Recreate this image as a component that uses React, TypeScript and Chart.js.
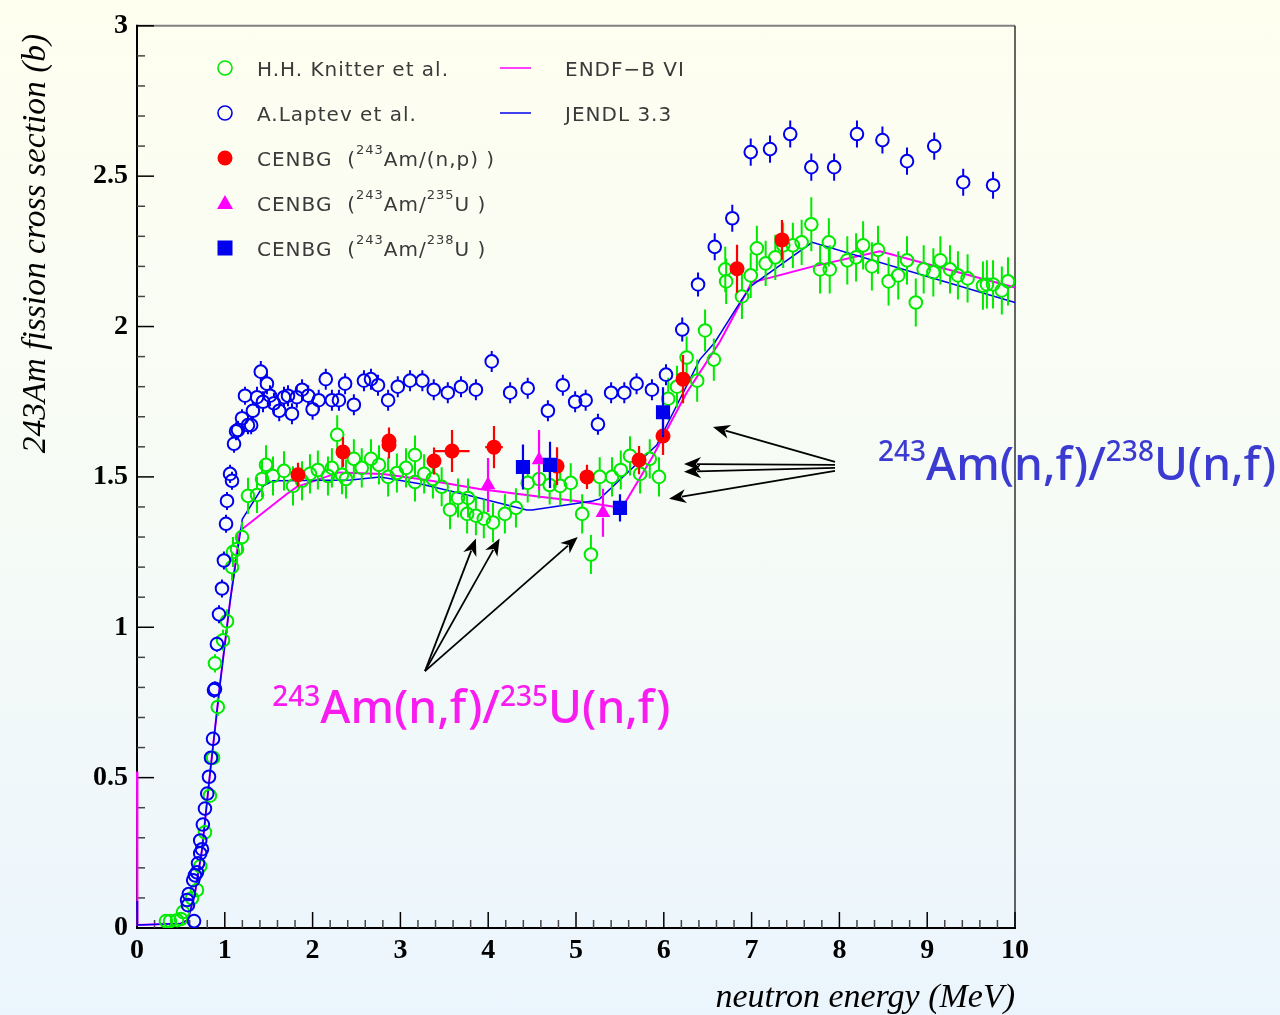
import React, { useEffect, useRef } from "react";
import { Chart, registerables } from "chart.js";

Chart.register(...registerables);

// ---------------- data ----------------
// H.H. Knitter et al.
const knitterX = [0.33, 0.376, 0.456, 0.5, 0.524, 0.626, 0.683, 0.72, 0.774, 0.83, 0.866, 0.888, 0.92, 0.98, 1.025, 1.082, 1.093, 1.139, 1.196, 1.264, 1.367, 1.424, 1.469, 1.549, 1.674, 1.777, 1.879, 1.97, 2.06, 2.175, 2.22, 2.28, 2.335, 2.38, 2.47, 2.56, 2.665, 2.756, 2.86, 2.96, 3.064, 3.166, 3.166, 3.27, 3.37, 3.47, 3.565, 3.656, 3.77, 3.76, 3.86, 3.95, 4.055, 4.19, 4.316, 4.45, 4.58, 4.7, 4.82, 4.94, 5.07, 5.17, 5.27, 5.41, 5.51, 5.615, 5.73, 5.84, 5.945, 6.05, 6.15, 6.26, 6.38, 6.47, 6.57, 6.7, 6.71, 6.89, 6.99, 7.06, 7.16, 7.27, 7.36, 7.47, 7.57, 7.68, 7.78, 7.88, 7.89, 8.09, 8.19, 8.27, 8.37, 8.44, 8.56, 8.67, 8.77, 8.87, 8.96, 9.07, 9.15, 9.26, 9.35, 9.46, 9.635, 9.68, 9.75, 9.85, 9.92];
const knitterY = [0.023, 0.023, 0.026, 0.03, 0.053, 0.099, 0.126, 0.205, 0.318, 0.44, 0.566, 0.88, 0.735, 0.957, 1.02, 1.2, 1.25, 1.26, 1.3, 1.437, 1.44, 1.493, 1.54, 1.503, 1.52, 1.47, 1.487, 1.51, 1.523, 1.503, 1.53, 1.64, 1.507, 1.493, 1.56, 1.53, 1.56, 1.54, 1.5, 1.513, 1.53, 1.573, 1.483, 1.51, 1.493, 1.467, 1.391, 1.43, 1.43, 1.377, 1.371, 1.361, 1.348, 1.377, 1.397, 1.48, 1.493, 1.473, 1.47, 1.48, 1.377, 1.242, 1.5, 1.5, 1.523, 1.57, 1.51, 1.56, 1.5, 1.76, 1.8, 1.897, 1.82, 1.987, 1.89, 2.19, 2.15, 2.1, 2.17, 2.26, 2.21, 2.23, 2.27, 2.27, 2.28, 2.34, 2.19, 2.28, 2.19, 2.22, 2.23, 2.27, 2.2, 2.255, 2.15, 2.17, 2.22, 2.08, 2.19, 2.18, 2.22, 2.19, 2.17, 2.16, 2.136, 2.14, 2.14, 2.12, 2.15];
const knitterErr = [0, 0, 0, 0, 0.01, 0.01, 0.01, 0.015, 0.015, 0.02, 0.02, 0.03, 0.03, 0.035, 0.04, 0.045, 0.05, 0.05, 0.05, 0.06, 0.06, 0.06, 0.065, 0.065, 0.065, 0.065, 0.065, 0.065, 0.065, 0.065, 0.065, 0.065, 0.065, 0.065, 0.065, 0.065, 0.065, 0.065, 0.065, 0.065, 0.065, 0.065, 0.065, 0.065, 0.065, 0.065, 0.065, 0.065, 0.065, 0.065, 0.065, 0.065, 0.065, 0.065, 0.065, 0.065, 0.065, 0.065, 0.065, 0.065, 0.065, 0.065, 0.065, 0.065, 0.065, 0.065, 0.065, 0.065, 0.065, 0.07, 0.07, 0.07, 0.07, 0.07, 0.07, 0.075, 0.075, 0.075, 0.075, 0.075, 0.075, 0.075, 0.075, 0.075, 0.075, 0.09, 0.08, 0.08, 0.08, 0.08, 0.08, 0.08, 0.08, 0.08, 0.08, 0.08, 0.08, 0.08, 0.08, 0.08, 0.08, 0.08, 0.08, 0.08, 0.08, 0.08, 0.08, 0.08, 0.08];

// A. Laptev et al.
const laptevX = [0.65, 0.58, 0.57, 0.59, 0.64, 0.66, 0.683, 0.695, 0.72, 0.74, 0.72, 0.75, 0.774, 0.8, 0.82, 0.843, 0.866, 0.877, 0.888, 0.91, 0.934, 0.968, 0.99, 1.014, 1.025, 1.06, 1.082, 1.105, 1.128, 1.15, 1.196, 1.264, 1.3, 1.23, 1.32, 1.367, 1.41, 1.435, 1.48, 1.515, 1.56, 1.62, 1.674, 1.72, 1.765, 1.82, 1.88, 1.95, 2.0, 2.07, 2.15, 2.22, 2.3, 2.37, 2.47, 2.585, 2.665, 2.745, 2.86, 2.97, 3.11, 3.25, 3.38, 3.54, 3.69, 3.86, 4.04, 4.25, 4.45, 4.68, 4.85, 4.99, 5.11, 5.25, 5.4, 5.55, 5.69, 5.865, 6.025, 6.21, 6.39, 6.58, 6.78, 6.99, 7.21, 7.44, 7.68, 7.94, 8.2, 8.49, 8.77, 9.08, 9.41, 9.75];
const laptevY = [0.023, 0.076, 0.093, 0.113, 0.159, 0.175, 0.185, 0.215, 0.248, 0.262, 0.291, 0.344, 0.397, 0.447, 0.503, 0.566, 0.629, 0.791, 0.795, 0.944, 1.043, 1.129, 1.222, 1.344, 1.42, 1.51, 1.487, 1.61, 1.652, 1.656, 1.695, 1.672, 1.672, 1.77, 1.72, 1.765, 1.85, 1.75, 1.81, 1.77, 1.745, 1.72, 1.765, 1.77, 1.71, 1.765, 1.79, 1.77, 1.725, 1.755, 1.825, 1.755, 1.755, 1.81, 1.74, 1.82, 1.825, 1.805, 1.755, 1.8, 1.82, 1.82, 1.79, 1.78, 1.8, 1.79, 1.884, 1.78, 1.795, 1.72, 1.805, 1.75, 1.755, 1.675, 1.78, 1.78, 1.81, 1.79, 1.84, 1.99, 2.14, 2.265, 2.36, 2.58, 2.59, 2.64, 2.53, 2.53, 2.64, 2.62, 2.55, 2.6, 2.48, 2.47];
const laptevErr = [0.01, 0.01, 0.01, 0.01, 0.01, 0.01, 0.01, 0.01, 0.01, 0.012, 0.012, 0.015, 0.015, 0.015, 0.02, 0.02, 0.02, 0.025, 0.025, 0.025, 0.03, 0.03, 0.03, 0.03, 0.03, 0.03, 0.03, 0.03, 0.03, 0.03, 0.03, 0.03, 0.03, 0.03, 0.03, 0.035, 0.035, 0.035, 0.035, 0.035, 0.035, 0.035, 0.035, 0.035, 0.035, 0.035, 0.035, 0.035, 0.035, 0.035, 0.035, 0.035, 0.035, 0.035, 0.035, 0.035, 0.035, 0.035, 0.035, 0.035, 0.035, 0.035, 0.035, 0.035, 0.035, 0.035, 0.035, 0.035, 0.035, 0.035, 0.035, 0.035, 0.035, 0.035, 0.035, 0.035, 0.035, 0.035, 0.035, 0.04, 0.04, 0.045, 0.045, 0.045, 0.045, 0.045, 0.045, 0.045, 0.045, 0.045, 0.045, 0.045, 0.045, 0.045];

// CENBG (243Am/(n,p))
const cenbgNpX = [1.834, 2.346, 2.87, 2.87, 3.383, 3.588, 4.066, 4.784, 5.125, 5.718, 5.991, 6.219, 6.834, 7.346];
const cenbgNpY = [1.507, 1.583, 1.619, 1.606, 1.553, 1.586, 1.599, 1.536, 1.5, 1.556, 1.636, 1.825, 2.192, 2.288];
const cenbgNpErr = [0.04, 0.05, 0.045, 0.045, 0.045, 0.07, 0.07, 0.063, 0.04, 0.047, 0.063, 0.08, 0.08, 0.066];
const cenbgNpXErr = [0.08, 0, 0, 0, 0, 0.2, 0.1, 0, 0, 0, 0, 0, 0, 0];

// CENBG (243Am/235U)
const cenbgU5X = [3.998, 4.579, 5.307];
const cenbgU5Y = [1.473, 1.556, 1.381];
const cenbgU5Err = [0.09, 0.1, 0.08];

// CENBG (243Am/238U)
const cenbgU8X = [4.396, 4.704, 5.501, 5.991];
const cenbgU8Y = [1.533, 1.54, 1.397, 1.715];
const cenbgU8Err = [0.075, 0.077, 0.045, 0.083];

// Evaluations
const endfX = [0, 0.005, 0.5, 0.58, 0.66, 0.74, 0.83, 0.945, 1.06, 1.17, 1.71, 1.82, 2.3, 2.8, 3.3, 3.9, 4.59, 5.05, 5.45, 5.53, 5.87, 6.26, 6.64, 7.0, 7.7, 8.46, 10];
const endfY = [0.52, 0.01, 0.015, 0.027, 0.115, 0.26, 0.51, 0.81, 1.086, 1.32, 1.444, 1.467, 1.515, 1.51, 1.49, 1.46, 1.434, 1.418, 1.4, 1.4, 1.566, 1.78, 1.95, 2.146, 2.2, 2.25, 2.13];
const jendlX = [0, 0.005, 0.5, 0.58, 0.66, 0.74, 0.83, 0.945, 1.06, 1.2, 1.44, 1.55, 1.63, 2.43, 2.77, 3.22, 3.76, 4.44, 4.5, 5.19, 5.27, 5.92, 6.41, 6.58, 6.89, 7.0, 7.69, 10];
const jendlY = [0.09, 0.01, 0.015, 0.027, 0.115, 0.26, 0.51, 0.81, 1.086, 1.36, 1.47, 1.487, 1.487, 1.49, 1.5, 1.477, 1.44, 1.39, 1.39, 1.42, 1.427, 1.606, 1.89, 1.947, 2.09, 2.136, 2.28, 2.08];

// Annotations (data coordinates)
const arrows238 = [
  { from: [7.95, 1.55], to: [6.56, 1.666] },
  { from: [7.95, 1.54], to: [6.23, 1.543] },
  { from: [7.95, 1.53], to: [6.23, 1.517] },
  { from: [7.95, 1.52], to: [6.06, 1.427] },
];
const arrows235 = [
  { from: [3.28, 0.854], to: [3.86, 1.295] },
  { from: [3.28, 0.854], to: [4.13, 1.295] },
  { from: [3.28, 0.854], to: [5.02, 1.3] },
];
const label238 = { x: 8.44, y: 1.49, parts: [{ t: "243", sup: true }, { t: "Am(n,f)/" }, { t: "238", sup: true }, { t: "U(n,f)" }] };
const label235 = { x: 1.54, y: 0.682, parts: [{ t: "243", sup: true }, { t: "Am(n,f)/" }, { t: "235", sup: true }, { t: "U(n,f)" }] };

const xTitle = "neutron energy (MeV)";
const yTitle = "243Am fission cross section (b)";

// ---------------- style ----------------
const GREEN = "#00ea00";
const BLUE = "#0000ee";
const RED = "#ff0000";
const MAGENTA = "#ff00ff";
const SERIF = '"Liberation Serif", "Times New Roman", serif';
const LEG_FONT = '"DejaVu Sans", sans-serif';
const ANN_FONT = '"Noto Sans", "Open Sans", sans-serif';

type Part = { t: string; sup?: boolean };

function pts(xs: number[], ys: number[]) {
  return xs.map((x, i) => ({ x, y: ys[i] }));
}

function drawRich(ctx: CanvasRenderingContext2D, parts: Part[], x: number, y: number, size: number, supSize: number, rise: number, family: string, weight = "normal") {
  let cx = x;
  for (const p of parts) {
    ctx.font = `${weight} ${p.sup ? supSize : size}px ${family}`;
    ctx.fillText(p.t, cx, p.sup ? y - rise : y);
    cx += ctx.measureText(p.t).width;
  }
}

function drawArrow(ctx: CanvasRenderingContext2D, x1: number, y1: number, x2: number, y2: number) {
  const a = Math.atan2(y2 - y1, x2 - x1);
  const L = 17, W = 7;
  const bx = x2 - L * Math.cos(a), by = y2 - L * Math.sin(a);
  ctx.beginPath();
  ctx.moveTo(x1, y1);
  ctx.lineTo(bx + 4 * Math.cos(a), by + 4 * Math.sin(a));
  ctx.stroke();
  ctx.beginPath();
  ctx.moveTo(x2, y2);
  ctx.lineTo(bx + W * Math.sin(a), by - W * Math.cos(a));
  ctx.lineTo(bx + 5 * Math.cos(a), by + 5 * Math.sin(a));
  ctx.lineTo(bx - W * Math.sin(a), by + W * Math.cos(a));
  ctx.closePath();
  ctx.fill();
}

const errorBarPlugin = {
  id: "errorBars",
  beforeDatasetDraw(chart: any, args: any) {
    const ds: any = chart.data.datasets[args.index];
    const eb = ds.errorBars;
    if (!eb) return;
    const ctx: CanvasRenderingContext2D = chart.ctx;
    const xs = chart.scales.x, ys = chart.scales.y;
    ctx.save();
    ctx.strokeStyle = eb.color;
    ctx.lineWidth = eb.width;
    ctx.beginPath();
    ds.data.forEach((p: any, j: number) => {
      const px = xs.getPixelForValue(p.x), py = ys.getPixelForValue(p.y);
      const ey = eb.y ? eb.y[j] : 0;
      const ex = eb.x ? eb.x[j] : 0;
      const g = eb.gap;
      if (ey > 0) {
        const top = ys.getPixelForValue(p.y + ey), bot = ys.getPixelForValue(p.y - ey);
        if (py - top > g) { ctx.moveTo(px, top); ctx.lineTo(px, py - g); }
        if (bot - py > g) { ctx.moveTo(px, py + g); ctx.lineTo(px, bot); }
      }
      if (ex > 0) {
        const l = xs.getPixelForValue(p.x - ex), r = xs.getPixelForValue(p.x + ex);
        if (px - l > g) { ctx.moveTo(l, py); ctx.lineTo(px - g, py); }
        if (r - px > g) { ctx.moveTo(px + g, py); ctx.lineTo(r, py); }
      }
    });
    ctx.stroke();
    ctx.restore();
  },
};

const decorPlugin = {
  id: "decor",
  beforeDatasetsDraw(chart: any) {
    const ctx: CanvasRenderingContext2D = chart.ctx;
    const xs = chart.scales.x, ys = chart.scales.y;
    const { left, right, top, bottom } = chart.chartArea;
    ctx.save();
    // annotation labels
    ctx.textBaseline = "alphabetic";
    ctx.textAlign = "left";
    (ctx as any).letterSpacing = "0px";
    ctx.fillStyle = "#3b3bd2";
    drawRich(ctx, label238.parts, xs.getPixelForValue(label238.x), ys.getPixelForValue(label238.y), 46, 28, 19, ANN_FONT, "500");
    ctx.fillStyle = "#f81cf0";
    drawRich(ctx, label235.parts, xs.getPixelForValue(label235.x), ys.getPixelForValue(label235.y), 46, 28, 17, ANN_FONT, "500");

    // frame
    ctx.lineWidth = 2;
    ctx.strokeStyle = "#808080";
    ctx.beginPath(); ctx.moveTo(left, top); ctx.lineTo(right, top); ctx.stroke();
    ctx.lineWidth = 1.2;
    ctx.strokeStyle = "#000";
    ctx.beginPath(); ctx.moveTo(right, top); ctx.lineTo(right, bottom); ctx.stroke();
    ctx.lineWidth = 2;
    ctx.beginPath(); ctx.moveTo(left, top - 1); ctx.lineTo(left, bottom); ctx.lineTo(right + 1, bottom); ctx.stroke();

    // ticks (inward)
    ctx.lineWidth = 1.5;
    for (let i = 0; i <= 50; i++) {
      const v = i * 0.2;
      const px = xs.getPixelForValue(v);
      const major = i % 5 === 0;
      ctx.strokeStyle = major ? "#000" : "#444";
      ctx.beginPath(); ctx.moveTo(px, bottom); ctx.lineTo(px, bottom - (major ? 16 : 8)); ctx.stroke();
    }
    for (let i = 0; i <= 30; i++) {
      const v = i * 0.1;
      const py = ys.getPixelForValue(v);
      const major = i % 5 === 0;
      ctx.strokeStyle = major ? "#000" : "#444";
      ctx.beginPath(); ctx.moveTo(left, py); ctx.lineTo(left + (major ? 17 : 8), py); ctx.stroke();
    }
    ctx.restore();
  },
  afterDatasetsDraw(chart: any) {
    const ctx: CanvasRenderingContext2D = chart.ctx;
    const xs = chart.scales.x, ys = chart.scales.y;
    ctx.save();
    ctx.strokeStyle = "#000";
    ctx.fillStyle = "#000";
    ctx.lineWidth = 1.8;
    for (const a of [...arrows238, ...arrows235]) {
      drawArrow(ctx, xs.getPixelForValue(a.from[0]), ys.getPixelForValue(a.from[1]), xs.getPixelForValue(a.to[0]), ys.getPixelForValue(a.to[1]));
    }
    ctx.restore();
  },
  afterDraw(chart: any) {
    const ctx: CanvasRenderingContext2D = chart.ctx;
    const { right, top, bottom } = chart.chartArea;
    ctx.save();
    // axis titles
    ctx.fillStyle = "#000";
    ctx.font = `italic 34px ${SERIF}`;
    ctx.textAlign = "right";
    ctx.textBaseline = "alphabetic";
    ctx.fillText(xTitle, right, bottom + 79);
    ctx.save();
    ctx.translate(45, top + 8);
    ctx.rotate(-Math.PI / 2);
    ctx.textAlign = "right";
    ctx.font = `italic 33.5px ${SERIF}`;
    ctx.fillText(yTitle, 0, 0);
    ctx.restore();

    // legend
    const rows = [68, 113, 158, 203, 248];
    const mx = 225, tx = 257;
    ctx.lineWidth = 1.6;
    ctx.strokeStyle = GREEN;
    ctx.beginPath(); ctx.arc(mx, rows[0], 7, 0, Math.PI * 2); ctx.stroke();
    ctx.strokeStyle = BLUE;
    ctx.beginPath(); ctx.arc(mx, rows[1], 7, 0, Math.PI * 2); ctx.stroke();
    ctx.fillStyle = RED;
    ctx.beginPath(); ctx.arc(mx, rows[2], 7.5, 0, Math.PI * 2); ctx.fill();
    ctx.fillStyle = MAGENTA;
    ctx.beginPath(); ctx.moveTo(mx, rows[3] - 8); ctx.lineTo(mx + 8, rows[3] + 6); ctx.lineTo(mx - 8, rows[3] + 6); ctx.closePath(); ctx.fill();
    ctx.fillStyle = BLUE;
    ctx.fillRect(mx - 7.5, rows[4] - 7.5, 15, 15);

    ctx.lineWidth = 1.5;
    ctx.strokeStyle = MAGENTA;
    ctx.beginPath(); ctx.moveTo(500, rows[0]); ctx.lineTo(531, rows[0]); ctx.stroke();
    ctx.strokeStyle = BLUE;
    ctx.beginPath(); ctx.moveTo(500, rows[1]); ctx.lineTo(531, rows[1]); ctx.stroke();

    ctx.fillStyle = "#3a3a3a";
    ctx.textAlign = "left";
    ctx.textBaseline = "alphabetic";
    (ctx as any).letterSpacing = "1px";
    const f = 20, fs = 13, rise = 12;
    const legendTexts: Part[][] = [
      [{ t: "H.H. Knitter et al." }],
      [{ t: "A.Laptev et al." }],
      [{ t: "CENBG  (" }, { t: "243", sup: true }, { t: "Am/(n,p) )" }],
      [{ t: "CENBG  (" }, { t: "243", sup: true }, { t: "Am/" }, { t: "235", sup: true }, { t: "U )" }],
      [{ t: "CENBG  (" }, { t: "243", sup: true }, { t: "Am/" }, { t: "238", sup: true }, { t: "U )" }],
    ];
    legendTexts.forEach((parts, i) => drawRich(ctx, parts, tx, rows[i] + 7.5, f, fs, rise, LEG_FONT, "normal"));
    drawRich(ctx, [{ t: "ENDF\u2212B VI" }], 565, rows[0] + 7.5, f, fs, rise, LEG_FONT, "normal");
    drawRich(ctx, [{ t: "JENDL 3.3" }], 565, rows[1] + 7.5, f, fs, rise, LEG_FONT, "normal");
    (ctx as any).letterSpacing = "0px";
    ctx.restore();
  },
};

export default function App() {
  const ref = useRef<HTMLCanvasElement | null>(null);
  useEffect(() => {
    if (!ref.current) return;
    const chart = new Chart(ref.current, {
      type: "scatter",
      data: {
        datasets: [
          {
            label: "CENBG (243Am/238U)",
            data: pts(cenbgU8X, cenbgU8Y),
            pointStyle: "rect",
            pointRadius: 10,
            backgroundColor: BLUE,
            borderWidth: 0,
            order: 1,
            errorBars: { y: cenbgU8Err, color: BLUE, width: 2.2, gap: 6 },
          } as any,
          {
            label: "CENBG (243Am/235U)",
            data: pts(cenbgU5X, cenbgU5Y),
            pointStyle: "triangle",
            pointRadius: 8.5,
            backgroundColor: MAGENTA,
            borderWidth: 0,
            order: 2,
            errorBars: { y: cenbgU5Err, color: MAGENTA, width: 2.2, gap: 5 },
          } as any,
          {
            label: "CENBG (243Am/(n,p))",
            data: pts(cenbgNpX, cenbgNpY),
            pointStyle: "circle",
            pointRadius: 7.5,
            backgroundColor: RED,
            borderWidth: 0,
            order: 3,
            errorBars: { y: cenbgNpErr, x: cenbgNpXErr, color: RED, width: 2.2, gap: 6 },
          } as any,
          {
            label: "A.Laptev et al.",
            data: pts(laptevX, laptevY),
            pointStyle: "circle",
            pointRadius: 6.3,
            backgroundColor: "rgba(0,0,0,0)",
            borderColor: BLUE,
            borderWidth: 2,
            order: 4,
            errorBars: { y: laptevErr, color: BLUE, width: 2, gap: 6.5 },
          } as any,
          {
            label: "H.H. Knitter et al.",
            data: pts(knitterX, knitterY),
            pointStyle: "circle",
            pointRadius: 6.3,
            backgroundColor: "rgba(0,0,0,0)",
            borderColor: GREEN,
            borderWidth: 2,
            order: 5,
            errorBars: { y: knitterErr, color: GREEN, width: 2, gap: 6.5 },
          } as any,
          {
            label: "JENDL 3.3",
            data: pts(jendlX, jendlY),
            showLine: true,
            pointRadius: 0,
            borderColor: BLUE,
            borderWidth: 1.5,
            clip: 4,
            order: 6,
          } as any,
          {
            label: "ENDF-B VI",
            data: pts(endfX, endfY),
            showLine: true,
            pointRadius: 0,
            borderColor: MAGENTA,
            borderWidth: 2,
            clip: 4,
            order: 7,
          } as any,
        ],
      },
      options: {
        responsive: false,
        animation: false,
        devicePixelRatio: 1,
        events: [],
        layout: { padding: { top: 22, right: 265, left: 0, bottom: 0 } },
        plugins: { legend: { display: false }, tooltip: { enabled: false } },
        scales: {
          x: {
            type: "linear",
            min: 0,
            max: 10,
            afterFit: (s: any) => { s.height = 87; },
            grid: { display: false, drawTicks: false },
            border: { display: false },
            ticks: { stepSize: 1, autoSkip: false, maxRotation: 0, padding: 6, color: "#000", font: { family: SERIF, weight: "bold", size: 28 }, callback: (v: any) => `${Number(v)}` },
          },
          y: {
            type: "linear",
            min: 0,
            max: 3,
            afterFit: (s: any) => { s.width = 137; },
            grid: { display: false, drawTicks: false },
            border: { display: false },
            ticks: { stepSize: 0.5, autoSkip: false, padding: 9, color: "#000", font: { family: SERIF, weight: "bold", size: 28 }, callback: (v: any) => `${Number(v)}` },
          },
        },
      } as any,
      plugins: [errorBarPlugin, decorPlugin],
    });
    return () => chart.destroy();
  }, []);

  return (
    <div
      style={{
        position: "absolute",
        left: 0,
        top: 0,
        width: 1280,
        height: 1015,
        background: "linear-gradient(to bottom, #fffff0 0%, #f6fbf6 50%, #ebf5fd 100%)",
        overflow: "hidden",
      }}
    >
      <canvas ref={ref} width={1280} height={1015} style={{ display: "block", width: 1280, height: 1015 }} />
    </div>
  );
}
